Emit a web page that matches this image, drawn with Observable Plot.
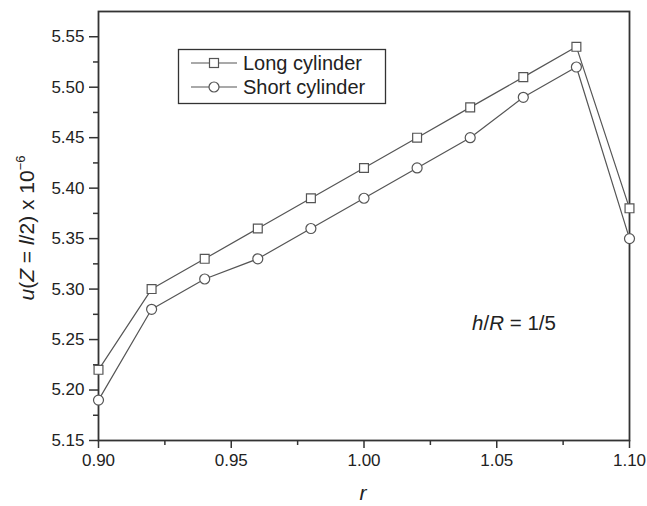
<!DOCTYPE html>
<html><head><meta charset="utf-8">
<script src="https://cdn.jsdelivr.net/npm/d3@7"></script>
<script src="https://cdn.jsdelivr.net/npm/@observablehq/plot@0.6"></script>
<style>
body{margin:0;background:#fff;font-family:Arial,"Liberation Sans",sans-serif}
#wrap{position:relative;width:647px;height:506px}
</style>
</head><body><div id="wrap"></div>
<script>
const rValues = [0.90, 0.92, 0.94, 0.96, 0.98, 1.00, 1.02, 1.04, 1.06, 1.08, 1.10];
const longCylinder = [5.22, 5.30, 5.33, 5.36, 5.39, 5.42, 5.45, 5.48, 5.51, 5.54, 5.38];
const shortCylinder = [5.19, 5.28, 5.31, 5.33, 5.36, 5.39, 5.42, 5.45, 5.49, 5.52, 5.35];
const seriesNames = ["Long cylinder", "Short cylinder"];
const xTicks = [0.90, 0.95, 1.00, 1.05, 1.10];
const xMinorTicks = [0.925, 0.975, 1.025, 1.075];
const yTicks = [5.15, 5.20, 5.25, 5.30, 5.35, 5.40, 5.45, 5.50, 5.55];
const yMinorTicks = [5.175, 5.225, 5.275, 5.325, 5.375, 5.425, 5.475, 5.525];

const longData = rValues.map((r, i) => ({r, u: longCylinder[i], s: seriesNames[0]}));
const shortData = rValues.map((r, i) => ({r, u: shortCylinder[i], s: seriesNames[1]}));
const allData = longData.concat(shortData);

const ink = "#333";
const lineCol = "#555";
const ff = "Arial, 'Liberation Sans', sans-serif";

const plot = Plot.plot({
  width: 647, height: 506,
  marginLeft: 98, marginRight: 18, marginTop: 11, marginBottom: 66,
  x: {domain: [0.90, 1.10]},
  y: {domain: [5.15, 5.575]},
  style: {fontFamily: ff, fontSize: "17px", color: "#222", background: "white"},
  marks: [
    Plot.axisX({ticks: xTicks, tickFormat: d3.format(".2f"), tickSize: 8, tickPadding: 5, label: null, stroke: ink, strokeWidth: 1.5, fontSize: 17}),
    Plot.axisX({ticks: xMinorTicks, tickFormat: () => "", tickSize: 5, label: null, stroke: ink, strokeWidth: 1.5}),
    Plot.axisY({ticks: yTicks, tickFormat: d3.format(".2f"), tickSize: 9, tickPadding: 5, label: null, stroke: ink, strokeWidth: 1.5, fontSize: 17}),
    Plot.axisY({ticks: yMinorTicks, tickFormat: () => "", tickSize: 5, label: null, stroke: ink, strokeWidth: 1.5}),
    Plot.frame({stroke: ink, strokeWidth: 1.8}),
    Plot.line(allData, {x: "r", y: "u", z: "s", stroke: lineCol, strokeWidth: 1.2}),
    Plot.dot(longData, {x: "r", y: "u", symbol: "square", r: 5, stroke: lineCol, fill: "white", strokeWidth: 1.2}),
    Plot.dot(shortData, {x: "r", y: "u", symbol: "circle", r: 5, stroke: lineCol, fill: "white", strokeWidth: 1.2})
  ]
});
document.getElementById("wrap").appendChild(plot);

const svg = d3.select(plot);
function txt(sel) {
  return sel.style("font-family", ff).style("fill", "#222");
}

// y-axis label
const yl = txt(svg.append("text"))
  .attr("transform", "translate(34,228) rotate(-90)")
  .attr("text-anchor", "middle").style("font-size", "21px");
yl.append("tspan").style("font-style", "italic").text("u");
yl.append("tspan").text("(");
yl.append("tspan").style("font-style", "italic").text("Z");
yl.append("tspan").text(" = ");
yl.append("tspan").style("font-style", "italic").text("l");
yl.append("tspan").text("/2) x 10");
yl.append("tspan").style("font-size", "13px").attr("dy", -9).text("\u22126");

// x-axis label
txt(svg.append("text")).attr("x", 363).attr("y", 500).attr("text-anchor", "middle")
  .style("font-size", "21px").style("font-style", "italic").text("r");

// annotation
const an = txt(svg.append("text")).attr("x", 514).attr("y", 330).attr("text-anchor", "middle")
  .style("font-size", "20.5px");
an.append("tspan").style("font-style", "italic").text("h");
an.append("tspan").text("/");
an.append("tspan").style("font-style", "italic").text("R");
an.append("tspan").text(" = 1/5");

// legend
const lg = svg.append("g");
lg.append("rect").attr("x", 178.5).attr("y", 49.5).attr("width", 207).attr("height", 54)
  .attr("fill", "white").attr("stroke", ink).attr("stroke-width", 1.3);
seriesNames.forEach((name, i) => {
  const cy = 63 + i * 24;
  lg.append("line").attr("x1", 191).attr("x2", 237).attr("y1", cy).attr("y2", cy).attr("stroke", lineCol).attr("stroke-width", 1.2);
  if (i === 0) {
    lg.append("rect").attr("x", 209.5).attr("y", cy - 4.5).attr("width", 9).attr("height", 9).attr("fill", "white").attr("stroke", lineCol).attr("stroke-width", 1.2);
  } else {
    lg.append("circle").attr("cx", 214).attr("cy", cy).attr("r", 5).attr("fill", "white").attr("stroke", lineCol).attr("stroke-width", 1.2);
  }
  txt(lg.append("text")).attr("x", 243).attr("y", cy + 7).attr("text-anchor", "start")
    .style("font-size", "20px").text(name);
});
</script>
</body></html>
